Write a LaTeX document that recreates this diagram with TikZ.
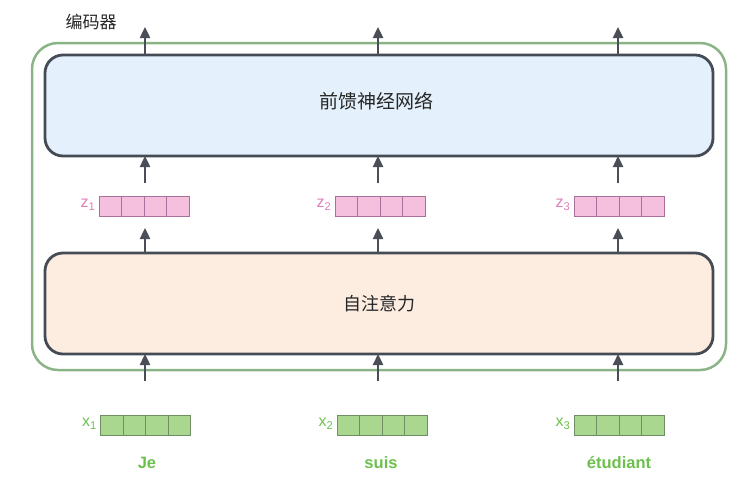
\documentclass[tikz,border=0pt]{standalone}
\usepackage{fontspec}
\setmainfont{Liberation Sans}
\newfontfamily\cjk{Noto Sans CJK SC}
\usetikzlibrary{arrows.meta}
\definecolor{outerg}{HTML}{8AB486}
\definecolor{boxline}{HTML}{454B55}
\definecolor{ffnfill}{HTML}{E4F1FC}
\definecolor{attfill}{HTML}{FDEDE1}
\definecolor{pinkfill}{HTML}{F5C0DD}
\definecolor{pinkline}{HTML}{A8709A}
\definecolor{pinklab}{HTML}{E07DB9}
\definecolor{greenfill}{HTML}{A9D790}
\definecolor{greenline}{HTML}{6F8F63}
\definecolor{greenlab}{HTML}{6CC04E}
\definecolor{arrowc}{HTML}{4A4F57}
\tikzset{
  x=1pt, y=-1pt,
  bigbox/.style={draw=boxline, line width=2.8pt, rounded corners=18pt},
  flow/.style={draw=arrowc, line width=2.4pt, -{Triangle[length=11pt,width=10pt]}},
  cellp/.style={draw=pinkline, fill=pinkfill, line width=0.8pt, minimum width=22.5pt, minimum height=20pt, inner sep=0pt},
  cellg/.style={draw=greenline, fill=greenfill, line width=0.8pt, minimum width=22.5pt, minimum height=20pt, inner sep=0pt},
  zlab/.style={text=pinklab, font=\fontsize{16}{18}\selectfont},
  xlab/.style={text=greenlab, font=\fontsize{16}{18}\selectfont},
  word/.style={text=greenlab, font=\bfseries\fontsize{16.5}{19}\selectfont},
  cjklab/.style={font=\cjk\fontsize{19}{21}\selectfont, text=black!85},
}
\begin{document}
\begin{tikzpicture}
\useasboundingbox (0,0) rectangle (749,483);
% outer encoder box
\draw[draw=outerg, line width=2.5pt, rounded corners=26pt] (32,43) rectangle (726,370);
\node[cjklab, font=\cjk\fontsize{17}{19}\selectfont] (enc) at (91,22) {编码器};
% FFN
\node[bigbox, fill=ffnfill, minimum width=668pt, minimum height=101pt, inner sep=0pt] (ffn) at (379,105.5) {};
\node[cjklab] (ffnt) at (376,101) {前馈神经网络};
% attention
\node[bigbox, fill=attfill, minimum width=668pt, minimum height=101pt, inner sep=0pt] (att) at (379,303.5) {};
\node[cjklab, font=\cjk\fontsize{18}{20}\selectfont] (attt) at (379,304) {自注意力};
% z vectors
\foreach \i/\cx in {1/144, 2/380, 3/619}{
  \foreach \k in {0,1,2,3}{
    \node[cellp] (z\i c\k) at ({\cx-33.75+22.5*\k},206) {};
  }
  \node[zlab, anchor=east] (zl\i) at ({\cx-45},205) {z\textsubscript{\i}};
}
% x vectors
\foreach \i/\cx in {1/145.5, 2/382, 3/619}{
  \foreach \k in {0,1,2,3}{
    \node[cellg] (x\i c\k) at ({\cx-33.75+22.5*\k},425) {};
  }
  \node[xlab, anchor=east] (xl\i) at ({\cx-45},424) {x\textsubscript{\i}};
}
\node[word] (w1) at (147,463) {Je};
\node[word] (w2) at (381,463) {suis};
\node[word] (w3) at (619,463) {étudiant};
% arrow coordinates
\foreach \i/\ax in {1/145, 2/378, 3/618}{
  \coordinate (top\i) at (\ax,27);
  \coordinate (ffnT\i) at (\ax,55);
  \coordinate (ffnB\i) at (\ax,156);
  \coordinate (zT\i) at (\ax,183);
  \coordinate (zB\i) at (\ax,228);
  \coordinate (attT\i) at (\ax,253);
  \coordinate (attB\i) at (\ax,354);
  \coordinate (bot\i) at (\ax,381);
  \draw[flow] (ffnT\i) -- (top\i);
  \draw[flow] (zT\i) -- (ffnB\i);
  \draw[flow] (attT\i) -- (zB\i);
  \draw[flow] (bot\i) -- (attB\i);
}
\end{tikzpicture}
\end{document}
